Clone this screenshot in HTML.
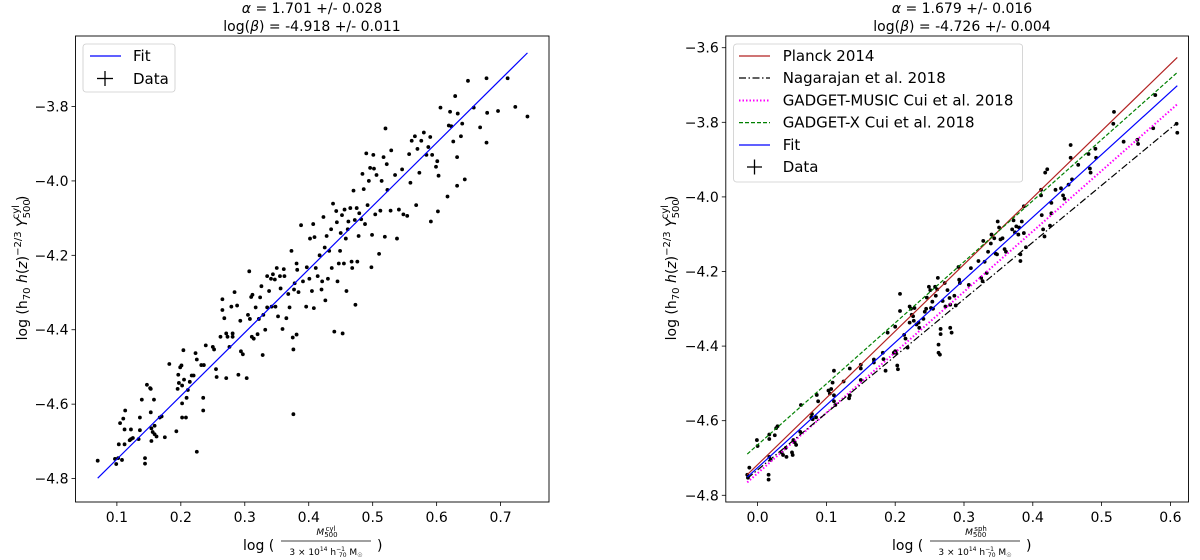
<!DOCTYPE html>
<html><head><meta charset="utf-8"><style>
html,body{margin:0;padding:0;background:#fff;}
svg{display:block;font-family:"DejaVu Sans","Liberation Sans",sans-serif;}
</style></head><body>
<svg id="fig" width="1200" height="560" viewBox="0 0 1200 560" xmlns="http://www.w3.org/2000/svg"></svg>
<script>
// ---------- LEFT PANEL DATA ----------
const leftX=[0.070,0.097,0.099,0.102,0.108,0.103,0.105,0.110,0.112,0.113,0.112,0.120,0.122,0.125,0.122,0.134,0.136,0.136,0.139,0.144,0.144,0.147,0.152,0.153,0.153,0.154,0.154,0.156,0.159,0.158,0.159,0.162,0.167,0.170,0.175,0.182,0.193,0.195,0.196,0.197,0.199,0.201,0.202,0.202,0.202,0.204,0.205,0.208,0.209,0.211,0.214,0.217,0.220,0.223,0.225,0.225,0.232,0.236,0.235,0.235,0.239,0.250,0.252,0.255,0.256,0.262,0.265,0.265,0.268,0.271,0.271,0.273,0.276,0.279,0.281,0.281,0.284,0.288,0.290,0.293,0.294,0.297,0.303,0.305,0.307,0.308,0.310,0.311,0.312,0.314,0.317,0.320,0.322,0.324,0.326,0.328,0.329,0.332,0.335,0.335,0.338,0.341,0.342,0.344,0.347,0.348,0.350,0.352,0.355,0.356,0.359,0.361,0.362,0.365,0.368,0.370,0.373,0.375,0.376,0.376,0.377,0.378,0.381,0.381,0.382,0.384,0.388,0.391,0.396,0.397,0.401,0.402,0.405,0.407,0.408,0.409,0.411,0.414,0.417,0.420,0.421,0.423,0.425,0.426,0.428,0.430,0.432,0.435,0.436,0.438,0.440,0.443,0.444,0.445,0.447,0.449,0.450,0.452,0.453,0.455,0.456,0.458,0.459,0.461,0.462,0.465,0.467,0.468,0.470,0.472,0.473,0.475,0.476,0.478,0.479,0.482,0.484,0.486,0.488,0.490,0.492,0.494,0.496,0.498,0.499,0.501,0.502,0.504,0.506,0.510,0.512,0.514,0.517,0.519,0.520,0.522,0.523,0.528,0.529,0.535,0.538,0.541,0.546,0.548,0.554,0.557,0.559,0.561,0.566,0.568,0.570,0.573,0.576,0.580,0.584,0.587,0.590,0.591,0.593,0.599,0.601,0.602,0.603,0.606,0.617,0.619,0.621,0.623,0.626,0.629,0.632,0.632,0.633,0.638,0.640,0.644,0.649,0.658,0.668,0.678,0.678,0.679,0.696,0.711,0.723,0.742];
const leftY=[-4.752,-4.747,-4.761,-4.745,-4.750,-4.708,-4.651,-4.639,-4.668,-4.617,-4.708,-4.697,-4.694,-4.691,-4.668,-4.694,-4.670,-4.636,-4.588,-4.745,-4.760,-4.548,-4.557,-4.559,-4.622,-4.665,-4.699,-4.675,-4.658,-4.588,-4.681,-4.687,-4.636,-4.633,-4.689,-4.492,-4.673,-4.559,-4.521,-4.543,-4.501,-4.496,-4.550,-4.598,-4.636,-4.455,-4.534,-4.636,-4.583,-4.562,-4.540,-4.523,-4.523,-4.463,-4.728,-4.480,-4.495,-4.495,-4.583,-4.617,-4.442,-4.446,-4.453,-4.506,-4.527,-4.419,-4.318,-4.347,-4.369,-4.530,-4.410,-4.419,-4.446,-4.338,-4.419,-4.410,-4.299,-4.335,-4.521,-4.376,-4.458,-4.466,-4.530,-4.360,-4.243,-4.371,-4.312,-4.419,-4.306,-4.424,-4.340,-4.412,-4.371,-4.313,-4.283,-4.468,-4.360,-4.400,-4.256,-4.340,-4.296,-4.263,-4.338,-4.251,-4.265,-4.338,-4.234,-4.364,-4.256,-4.289,-4.398,-4.237,-4.256,-4.369,-4.304,-4.340,-4.188,-4.421,-4.627,-4.453,-4.292,-4.275,-4.222,-4.413,-4.239,-4.299,-4.119,-4.270,-4.338,-4.232,-4.263,-4.155,-4.296,-4.116,-4.342,-4.151,-4.234,-4.256,-4.200,-4.292,-4.270,-4.097,-4.179,-4.321,-4.148,-4.263,-4.188,-4.130,-4.234,-4.061,-4.405,-4.081,-4.111,-4.270,-4.222,-4.188,-4.140,-4.092,-4.410,-4.222,-4.077,-4.155,-4.296,-4.130,-4.109,-4.073,-4.217,-4.234,-4.026,-4.105,-4.333,-4.073,-4.217,-4.148,-4.087,-4.103,-3.981,-4.022,-4.116,-3.926,-4.065,-4.000,-3.965,-4.232,-4.145,-3.930,-3.967,-4.090,-3.984,-4.196,-4.080,-4.000,-3.936,-4.150,-3.859,-3.955,-4.024,-4.080,-3.918,-3.984,-4.155,-4.077,-3.969,-4.090,-4.094,-3.928,-4.005,-3.892,-3.880,-4.065,-3.914,-3.978,-3.892,-3.870,-3.930,-3.909,-3.882,-4.109,-3.930,-3.962,-3.947,-4.082,-3.986,-3.803,-4.042,-3.851,-3.814,-3.853,-3.894,-3.772,-3.936,-4.013,-3.819,-3.880,-3.846,-3.996,-3.731,-3.803,-3.856,-3.724,-3.897,-3.817,-3.812,-3.724,-3.801,-3.827];
const leftFit=[1.701,-4.918];
const leftFitRange=[0.07,0.742];
const leftXTicks=[0.1,0.2,0.3,0.4,0.5,0.6,0.7];
const leftYTicks=[-3.8,-4.0,-4.2,-4.4,-4.6,-4.8];

// ---------- RIGHT PANEL DATA ----------
const rightX=[-0.015,-0.014,-0.012,-0.001,0.000,0.016,0.016,0.017,0.019,0.017,0.017,0.025,0.027,0.029,0.035,0.037,0.041,0.042,0.050,0.051,0.052,0.054,0.056,0.062,0.063,0.078,0.079,0.080,0.085,0.086,0.088,0.103,0.105,0.107,0.109,0.111,0.111,0.111,0.113,0.125,0.133,0.134,0.134,0.150,0.150,0.150,0.169,0.169,0.182,0.183,0.186,0.189,0.198,0.200,0.201,0.203,0.204,0.200,0.207,0.207,0.213,0.215,0.218,0.221,0.221,0.223,0.224,0.226,0.227,0.228,0.231,0.234,0.235,0.241,0.243,0.245,0.246,0.249,0.251,0.252,0.254,0.255,0.258,0.259,0.261,0.262,0.263,0.263,0.265,0.266,0.266,0.269,0.272,0.273,0.276,0.279,0.280,0.280,0.282,0.286,0.288,0.292,0.293,0.294,0.307,0.310,0.321,0.325,0.327,0.328,0.330,0.333,0.335,0.339,0.340,0.344,0.346,0.348,0.349,0.351,0.353,0.356,0.359,0.361,0.370,0.372,0.374,0.376,0.379,0.380,0.382,0.382,0.384,0.387,0.387,0.390,0.412,0.412,0.413,0.415,0.417,0.418,0.421,0.425,0.427,0.427,0.433,0.441,0.444,0.446,0.452,0.455,0.455,0.457,0.466,0.481,0.483,0.484,0.491,0.492,0.517,0.518,0.532,0.552,0.553,0.575,0.578,0.609,0.610];
const rightY=[-4.745,-4.753,-4.726,-4.652,-4.668,-4.758,-4.745,-4.697,-4.705,-4.637,-4.649,-4.639,-4.620,-4.615,-4.685,-4.692,-4.673,-4.697,-4.685,-4.692,-4.652,-4.658,-4.665,-4.630,-4.558,-4.591,-4.582,-4.596,-4.591,-4.531,-4.548,-4.519,-4.527,-4.515,-4.498,-4.548,-4.532,-4.466,-4.558,-4.495,-4.540,-4.460,-4.532,-4.450,-4.460,-4.491,-4.436,-4.444,-4.418,-4.435,-4.466,-4.364,-4.418,-4.414,-4.418,-4.452,-4.462,-4.348,-4.260,-4.306,-4.370,-4.380,-4.404,-4.294,-4.337,-4.300,-4.316,-4.320,-4.332,-4.298,-4.342,-4.337,-4.351,-4.327,-4.308,-4.300,-4.270,-4.241,-4.250,-4.298,-4.281,-4.300,-4.241,-4.265,-4.248,-4.217,-4.396,-4.418,-4.423,-4.354,-4.368,-4.279,-4.231,-4.294,-4.250,-4.271,-4.289,-4.351,-4.364,-4.265,-4.291,-4.188,-4.222,-4.231,-4.236,-4.191,-4.172,-4.217,-4.226,-4.118,-4.174,-4.204,-4.147,-4.125,-4.101,-4.111,-4.152,-4.154,-4.066,-4.082,-4.114,-4.111,-4.140,-4.147,-4.087,-4.063,-4.095,-4.079,-4.101,-4.082,-4.154,-4.172,-4.066,-4.025,-4.097,-4.135,-3.981,-3.996,-4.049,-4.087,-4.106,-3.935,-3.926,-4.077,-4.044,-4.016,-3.981,-3.977,-3.996,-4.005,-3.967,-3.861,-3.895,-3.953,-3.914,-3.885,-3.924,-3.935,-3.871,-3.895,-3.804,-3.772,-3.852,-3.847,-3.858,-3.816,-3.727,-3.804,-3.828];
const relNames=["Planck 2014","Nagarajan et al. 2018","GADGET-MUSIC Cui et al. 2018","GADGET-X Cui et al. 2018","Fit"];
const relSlopes=[1.79,1.526,1.622,1.637,1.679];
const relIntercepts=[-4.718,-4.732,-4.741,-4.665,-4.726];
const rightFitRange=[-0.015,0.61];
const rightXTicks=[0.0,0.1,0.2,0.3,0.4,0.5,0.6];
const rightYTicks=[-3.6,-3.8,-4.0,-4.2,-4.4,-4.6,-4.8];

const NS="http://www.w3.org/2000/svg";
const svg=document.getElementById('fig');
function mk(tag,attrs,parent){const e=document.createElementNS(NS,tag);for(const k in attrs)e.setAttribute(k,attrs[k]);(parent||svg).appendChild(e);return e;}
function fmt(v,d){return (v<0?'\u2212':'')+Math.abs(v).toFixed(d);}

function panel(cfg){
  const g=mk('g',{});
  
  
  const {L,R,T,B,xmin,xmax,ymin,ymax}=cfg;
  const sx=v=>L+(v-xmin)/(xmax-xmin)*(R-L);
  const sy=v=>B-(v-ymin)/(ymax-ymin)*(B-T);
  const xTickLabelY=B+20;
  cfg.xticks.forEach(t=>{
    const tk=mk('line',{x1:sx(t),x2:sx(t),y1:B,y2:B+4,stroke:'#000','stroke-width':0.8},g);
    
    
    const tl=mk('text',{x:sx(t),y:xTickLabelY,'font-size':14,'text-anchor':'middle'},g);
    tl.textContent=fmt(t,1);
    
    
  });
  cfg.yticks.forEach(t=>{
    const tk=mk('line',{x1:L-4,x2:L,y1:sy(t),y2:sy(t),stroke:'#000','stroke-width':0.8},g);
    
    
    const tl=mk('text',{x:L-7,y:sy(t)+5,'font-size':14,'text-anchor':'end'},g);
    tl.textContent=fmt(t,1);
    
    
  });
  return {g,sx,sy};
}

// LEFT
const lp=panel({name:'left-panel',L:75.5,R:549,T:36,B:502,xmin:0.0353,xmax:0.7757,ymin:-4.863,ymax:-3.6105,xticks:leftXTicks,yticks:leftYTicks});
leftX.forEach((x,i)=>{
  const c=mk('circle',{cx:lp.sx(x),cy:lp.sy(leftY[i]),r:1.9,fill:'#000'},lp.g);
  
  
});
{
  const f=x=>leftFit[0]*x+leftFit[1];
  const l=mk('line',{x1:lp.sx(leftFitRange[0]),y1:lp.sy(f(leftFitRange[0])),x2:lp.sx(leftFitRange[1]),y2:lp.sy(f(leftFitRange[1])),stroke:'#0000ff','stroke-width':1.2},lp.g);
  
  
}
// RIGHT
const rp=panel({name:'right-panel',L:725.8,R:1188.5,T:36,B:502,xmin:-0.0462,xmax:0.6263,ymin:-4.818,ymax:-3.5686,xticks:rightXTicks,yticks:rightYTicks});
rightX.forEach((x,i)=>{
  const c=mk('circle',{cx:rp.sx(x),cy:rp.sy(rightY[i]),r:1.9,fill:'#000'},rp.g);
  
  
});
const relColors=['#b22222','#000','#ff00ff','#008000','#0000ff'];
const relDash=['','7,2.5,1.5,2.5','1.5,2','4,2',''];
const relW=[1.2,1.2,2,1.2,1.2];
const relOrder=[0,3,2,1,4];
relOrder.forEach(i=>{
  const f=x=>relSlopes[i]*x+relIntercepts[i];
  const l=mk('line',{x1:rp.sx(rightFitRange[0]),y1:rp.sy(f(rightFitRange[0])),x2:rp.sx(rightFitRange[1]),y2:rp.sy(f(rightFitRange[1])),stroke:relColors[i],'stroke-width':relW[i],'stroke-dasharray':relDash[i]},rp.g);
  
  
});
</script>
<svg width="1200" height="560" style="position:absolute;left:0;top:0" xmlns="http://www.w3.org/2000/svg" font-family="DejaVu Sans, Liberation Sans, sans-serif">
  <rect x="75.5" y="36" width="473.5" height="466" fill="none" stroke="#000" stroke-width="0.9"/>
  <rect x="725.8" y="36" width="462.7" height="466" fill="none" stroke="#000" stroke-width="0.9"/>
  <text x="312" y="13" font-size="14" text-anchor="middle"><tspan font-style="italic">α</tspan> = 1.701 +/- 0.028</text>
  <text x="312" y="31" font-size="14" text-anchor="middle">log(<tspan font-style="italic">β</tspan>) = -4.918 +/- 0.011</text>
  <text x="962" y="13" font-size="14" text-anchor="middle"><tspan font-style="italic">α</tspan> = 1.679 +/- 0.016</text>
  <text x="962" y="31" font-size="14" text-anchor="middle">log(<tspan font-style="italic">β</tspan>) = -4.726 +/- 0.004</text>

  <g>
    <rect x="83" y="44" width="92" height="48" rx="3" fill="#fff" fill-opacity="0.8" stroke="#ccc" stroke-width="0.8"/>
    <line x1="90" x2="121" y1="56" y2="56" stroke="#0000ff" stroke-width="1.2"/>
    <text x="133" y="61" font-size="15">Fit</text>
    <line x1="105" x2="105" y1="71" y2="86" stroke="#000" stroke-width="1.3"/>
    <line x1="97" x2="113" y1="78.5" y2="78.5" stroke="#000" stroke-width="1.3"/>
    <text x="133" y="84" font-size="15">Data</text>
  </g>
  <g>
    <rect x="733.6" y="44" width="289" height="138" rx="3" fill="#fff" fill-opacity="0.8" stroke="#ccc" stroke-width="0.8"/>
    <line x1="739" x2="770" y1="56" y2="56" stroke="#b22222" stroke-width="1.2"/>
    <text x="782.7" y="61" font-size="15">Planck 2014</text>
    <line x1="739" x2="770" y1="78" y2="78" stroke="#000" stroke-width="1.2" stroke-dasharray="7,2.5,1.5,2.5"/>
    <text x="782.7" y="83" font-size="15">Nagarajan et al. 2018</text>
    <line x1="739" x2="770" y1="100.5" y2="100.5" stroke="#ff00ff" stroke-width="2" stroke-dasharray="1.5,2"/>
    <text x="782.7" y="105.5" font-size="15">GADGET-MUSIC Cui et al. 2018</text>
    <line x1="739" x2="770" y1="122.6" y2="122.6" stroke="#008000" stroke-width="1.2" stroke-dasharray="4,2"/>
    <text x="782.7" y="127.6" font-size="15">GADGET-X Cui et al. 2018</text>
    <line x1="739" x2="770" y1="145" y2="145" stroke="#0000ff" stroke-width="1.2"/>
    <text x="782.7" y="150" font-size="15">Fit</text>
    <line x1="754.5" x2="754.5" y1="159.5" y2="174.5" stroke="#000" stroke-width="1.3"/>
    <line x1="747" x2="762" y1="167" y2="167" stroke="#000" stroke-width="1.3"/>
    <text x="782.7" y="172" font-size="15">Data</text>
  </g>

  <g transform="translate(27,268) rotate(-90)">
    <text x="0" y="0" font-size="14" text-anchor="middle">log (h<tspan font-size="10" dy="3">70</tspan><tspan dy="-3"> </tspan><tspan font-style="italic">h</tspan>(<tspan font-style="italic">z</tspan>)<tspan font-size="10" dy="-6">−2/3</tspan><tspan dy="6"> </tspan><tspan font-style="italic">Y</tspan><tspan font-size="10" dy="3">500</tspan><tspan font-size="10" dx="-20" dy="-11">cyl</tspan><tspan dy="8" dx="4">)</tspan></text>
  </g>
  <g transform="translate(676,268) rotate(-90)">
    <text x="0" y="0" font-size="14" text-anchor="middle">log (h<tspan font-size="10" dy="3">70</tspan><tspan dy="-3"> </tspan><tspan font-style="italic">h</tspan>(<tspan font-style="italic">z</tspan>)<tspan font-size="10" dy="-6">−2/3</tspan><tspan dy="6"> </tspan><tspan font-style="italic">Y</tspan><tspan font-size="10" dy="3">500</tspan><tspan font-size="10" dx="-20" dy="-11">cyl</tspan><tspan dy="8" dx="4">)</tspan></text>
  </g>

  <g>
    <text x="243" y="550" font-size="14">log (</text>
    <text x="327" y="535" font-size="9" text-anchor="middle" font-style="italic">M<tspan font-style="normal" font-size="7" dy="2">500</tspan><tspan font-style="normal" font-size="7" dx="-12" dy="-6">cyl</tspan></text>
    <line x1="281" x2="371" y1="541" y2="541" stroke="#000" stroke-width="0.7"/>
    <text x="326" y="555" font-size="9" text-anchor="middle">3 × 10<tspan font-size="6" dy="-4">14</tspan><tspan dy="4"> h</tspan><tspan font-size="6" dy="-4">−1</tspan><tspan font-size="6" dx="-6" dy="6">70</tspan><tspan dy="-2"> M</tspan><tspan font-size="6" dy="2">☉</tspan></text>
    <text x="377" y="550" font-size="14">)</text>
  </g>
  <g>
    <text x="892" y="550" font-size="14">log (</text>
    <text x="976" y="535" font-size="9" text-anchor="middle" font-style="italic">M<tspan font-style="normal" font-size="7" dy="2">500</tspan><tspan font-style="normal" font-size="7" dx="-12" dy="-6">sph</tspan></text>
    <line x1="930" x2="1020" y1="541" y2="541" stroke="#000" stroke-width="0.7"/>
    <text x="975" y="555" font-size="9" text-anchor="middle">3 × 10<tspan font-size="6" dy="-4">14</tspan><tspan dy="4"> h</tspan><tspan font-size="6" dy="-4">−1</tspan><tspan font-size="6" dx="-6" dy="6">70</tspan><tspan dy="-2"> M</tspan><tspan font-size="6" dy="2">☉</tspan></text>
    <text x="1026" y="550" font-size="14">)</text>
  </g>
</svg>
</body></html>
